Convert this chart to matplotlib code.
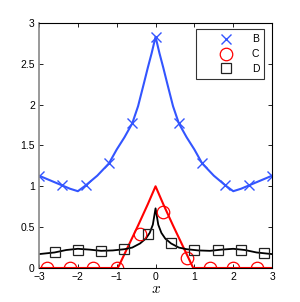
import matplotlib
matplotlib.use('Agg')
import matplotlib.pyplot as plt

# curve B (blue)
b_x = [-3, -2.7, -2.4, -2.2, -2.0, -1.8, -1.5, -1.2, -1.0, -0.8, -0.6, -0.45, -0.3, -0.2, -0.1, -0.05, 0,
       0.05, 0.1, 0.2, 0.3, 0.45, 0.6, 0.8, 1.0, 1.2, 1.5, 1.8, 2.0, 2.2, 2.4, 2.7, 3]
b_y = [1.13, 1.07, 1.01, 0.97, 0.94, 1.01, 1.13, 1.28, 1.45, 1.6, 1.77, 1.98, 2.26, 2.45, 2.63, 2.73, 2.83,
       2.73, 2.63, 2.45, 2.26, 1.98, 1.77, 1.6, 1.45, 1.28, 1.13, 1.01, 0.94, 0.97, 1.01, 1.07, 1.13]
b_mx = [-3, -2.4, -1.8, -1.2, -0.6, 0, 0.6, 1.2, 1.8, 2.4, 3]
b_my = [1.13, 1.01, 1.01, 1.28, 1.77, 2.83, 1.77, 1.28, 1.01, 1.01, 1.13]

# curve C (red)
c_x = [-3, -0.97, -0.7, -0.45, -0.2, 0, 0.2, 0.45, 0.7, 0.97, 3]
c_y = [0, 0, 0.27, 0.52, 0.78, 1.0, 0.78, 0.52, 0.27, 0, 0]
c_mx = [-2.8, -2.2, -1.6, -1.0, -0.4, 0.2, 0.8, 1.4, 2.0, 2.6]
c_my = [0, 0, 0, 0, 0.42, 0.68, 0.12, 0, 0, 0]

# curve D (black)
d_x = [-3, -2.6, -2.3, -2.0, -1.7, -1.4, -1.1, -0.8, -0.6, -0.4, -0.25, -0.15, -0.07, 0,
       0.07, 0.15, 0.25, 0.4, 0.6, 0.8, 1.1, 1.4, 1.7, 2.0, 2.3, 2.6, 3]
d_y = [0.17, 0.19, 0.22, 0.235, 0.225, 0.21, 0.215, 0.23, 0.25, 0.30, 0.36, 0.43, 0.53, 0.73,
       0.53, 0.43, 0.36, 0.30, 0.25, 0.23, 0.215, 0.21, 0.225, 0.235, 0.22, 0.19, 0.17]
d_mx = [-2.6, -2.0, -1.4, -0.8, -0.2, 0.4, 1.0, 1.6, 2.2, 2.8]
d_my = [0.19, 0.225, 0.21, 0.23, 0.42, 0.30, 0.22, 0.22, 0.225, 0.18]

blue = '#3355ff'

plt.rcParams['font.family'] = ['Liberation Sans', 'DejaVu Sans']
plt.rcParams['mathtext.fontset'] = 'cm'

fig = plt.figure(figsize=(3.0, 3.02), dpi=100)
ax = fig.add_axes([0.13, 0.1126, 0.777, 0.8116])

ax.plot(b_x, b_y, color=blue, lw=1.5)
ax.plot(c_x, c_y, color='red', lw=1.5)
ax.plot(d_x, d_y, color='black', lw=1.3)
ax.plot(b_mx, b_my, 'x', color=blue, ms=7, mew=1.0, label='B')
ax.plot(c_mx, c_my, 'o', color='red', mfc='none', ms=9, mew=0.9, label='C')
ax.plot(d_mx, d_my, 's', color='#222222', mfc='none', ms=7, mew=0.9, label='D')

ax.set_xlim(-3, 3)
ax.set_ylim(0, 3)
ax.set_xticks([-3, -2, -1, 0, 1, 2, 3])
ax.set_yticks([0, 0.5, 1, 1.5, 2, 2.5, 3])
ax.set_yticklabels(['0', '0.5', '1', '1.5', '2', '2.5', '3'])
ax.tick_params(direction='in', top=True, right=True, labelsize=7.5, length=3, width=0.6, pad=3)
for s in ax.spines.values():
    s.set_linewidth(0.8)
ax.spines['left'].set_color('#888888')
ax.spines['left'].set_linewidth(1.2)
ax.set_xlabel('$x$', fontsize=11, labelpad=0)

leg = ax.legend(loc='upper right', fontsize=7.5, frameon=True, fancybox=False,
                edgecolor='black', handlelength=4.6, handletextpad=0.2,
                borderpad=0.5, labelspacing=0.45, borderaxespad=0,
                bbox_to_anchor=(0.967, 0.974))
leg.get_frame().set_linewidth(0.8)

fig.savefig('out.png', dpi=100)
